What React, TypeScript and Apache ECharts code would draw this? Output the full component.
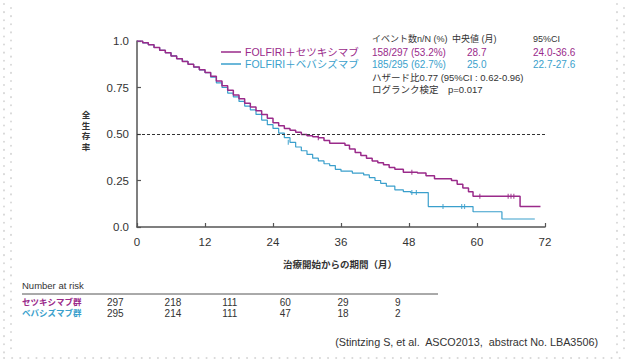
import React, { useEffect, useRef } from "react";
import * as echarts from "echarts";

const cetuxTimes = [0, 1, 2, 3, 4, 5, 6, 7, 8, 9, 10, 11, 12, 13, 14, 15, 16, 17, 18, 19, 20, 21, 22, 23, 24, 25, 26, 27, 28, 29, 30, 31, 32, 33, 34, 36.7, 37.5, 38.5, 39.5, 40.5, 41.5, 42.5, 43.5, 44.5, 45.5, 47, 49.5, 51, 52.5, 55.5, 56.5, 57.5, 58.5, 59.3, 67.6, 71.2];
const cetuxSurv = [1.0, 0.99, 0.98, 0.965, 0.95, 0.937, 0.92, 0.905, 0.89, 0.875, 0.86, 0.845, 0.83, 0.81, 0.785, 0.76, 0.735, 0.71, 0.69, 0.665, 0.645, 0.625, 0.605, 0.585, 0.56, 0.545, 0.53, 0.52, 0.51, 0.497, 0.49, 0.485, 0.48, 0.465, 0.45, 0.44, 0.42, 0.4, 0.385, 0.37, 0.355, 0.345, 0.335, 0.32, 0.31, 0.295, 0.29, 0.275, 0.26, 0.25, 0.23, 0.21, 0.19, 0.165, 0.11, 0.11];

const bevTimes = [0, 1, 2, 3, 4, 5, 6, 7, 8, 9, 10, 11, 12, 13, 14, 15, 16, 17, 18, 19, 20, 21, 22, 23, 24, 25, 26, 27, 28, 29, 30, 31, 32, 33, 34, 35, 36, 38, 40, 41, 42, 43, 44, 45.5, 47, 48.3, 51.4, 59.3, 64.4, 70.2];
const bevSurv = [1.0, 0.99, 0.98, 0.965, 0.95, 0.937, 0.92, 0.905, 0.89, 0.875, 0.86, 0.845, 0.83, 0.805, 0.775, 0.75, 0.72, 0.7, 0.675, 0.65, 0.63, 0.605, 0.575, 0.55, 0.53, 0.505, 0.48, 0.455, 0.43, 0.41, 0.39, 0.37, 0.355, 0.34, 0.33, 0.31, 0.3, 0.29, 0.28, 0.265, 0.25, 0.235, 0.22, 0.2, 0.19, 0.185, 0.11, 0.082, 0.043, 0.043];

const cetuxCensorT = [32, 48.5, 60.5, 65.5, 66, 66.5];
const cetuxCensorS = [0.48, 0.295, 0.165, 0.165, 0.165, 0.165];
const bevCensorT = [26.7, 48.5, 49.3, 54, 57.3, 57.8];
const bevCensorS = [0.455, 0.185, 0.185, 0.11, 0.11, 0.11];

const xTicks = [0, 12, 24, 36, 48, 60, 72];
const yTickLabels: Record<string, string> = { "0": "0.0", "0.25": "0.25", "0.5": "0.50", "0.75": "0.75", "1": "1.0" };

const seriesNames = ["FOLFIRI＋セツキシマブ", "FOLFIRI＋ベバシズマブ"];
const tableHeader = ["イベント数n/N (%)", "中央値 (月)", "95%CI"];
const tableRows = [
  ["158/297 (53.2%)", "28.7", "24.0-36.6"],
  ["185/295 (62.7%)", "25.0", "22.7-27.6"],
];
const hazardText = "ハザード比0.77 (95%CI : 0.62-0.96)";
const logrankText = "ログランク検定　p=0.017";

const riskGroups = ["セツキシマブ群", "ベバシズマブ群"];
const riskCetux = [297, 218, 111, 60, 29, 9];
const riskBev = [295, 214, 111, 47, 18, 2];
const citation = "(Stintzing S, et al.  ASCO2013,  abstract No. LBA3506)";

const PURPLE = "#9a2a8a";
const BLUE = "#3a9fcc";
const FONT = "'Liberation Sans', 'Noto Sans CJK JP', sans-serif";

export default function App() {
  const ref = useRef<HTMLDivElement>(null);
  useEffect(() => {
    if (!ref.current) return;
    const chart = echarts.init(ref.current, null, { renderer: "svg" });
    const pair = (ts: number[], ss: number[]) => ts.map((t, i) => [t, ss[i]]);
    const txt = (x: number, y: number, text: string, fill: string, size = 9.5, align = "left", weight = "normal") => ({
      type: "text",
      x,
      y,
      style: { text, fill, fontSize: size, fontFamily: FONT, align, verticalAlign: "middle", fontWeight: weight },
    });
    const dotsColor = "#d8d8d8";
    const dotLine = (x1: number, y1: number, x2: number, y2: number) => ({
      type: "line",
      shape: { x1, y1, x2, y2 },
      style: { stroke: dotsColor, lineWidth: 2, lineDash: [0.1, 8], lineCap: "round" },
    });
    const riskX0 = 107;
    const riskStep = 57.6;
    const graphics: any[] = [
      dotLine(4, 4, 4, 356),
      dotLine(11, 8, 11, 356),
      dotLine(617, 4, 617, 356),
      dotLine(624, 8, 624, 356),
      dotLine(4, 358, 624, 358),
      // legend
      { type: "line", shape: { x1: 221, y1: 52, x2: 241, y2: 52 }, style: { stroke: PURPLE, lineWidth: 1.5 } },
      { type: "line", shape: { x1: 221, y1: 64, x2: 241, y2: 64 }, style: { stroke: BLUE, lineWidth: 1.5 } },
      txt(245, 52, seriesNames[0], PURPLE, 10.5),
      txt(245, 64, seriesNames[1], BLUE, 10.5),
      txt(372, 39, tableHeader[0], "#333", 9),
      txt(452, 39, tableHeader[1], "#333", 9),
      txt(533, 39, tableHeader[2], "#333", 9),
      txt(372, 52, tableRows[0][0], PURPLE, 10),
      txt(467, 52, tableRows[0][1], PURPLE, 10),
      txt(533, 52, tableRows[0][2], PURPLE, 10),
      txt(372, 64, tableRows[1][0], BLUE, 10),
      txt(467, 64, tableRows[1][1], BLUE, 10),
      txt(533, 64, tableRows[1][2], BLUE, 10),
      txt(372, 77, hazardText, "#333", 9.5),
      txt(372, 89, logrankText, "#333", 9.5),
      // y axis name
      {
        type: "text",
        x: 86,
        y: 131,
        style: { text: "全\n生\n存\n率", fill: "#333", fontSize: 8.5, lineHeight: 10.5, fontFamily: FONT, align: "center", verticalAlign: "middle", fontWeight: "bold" },
      },
      txt(340, 264, "治療開始からの期間（月）", "#333", 9.5, "center", "bold"),
      // number at risk
      txt(22, 285, "Number at risk", "#333", 9.5),
      { type: "line", shape: { x1: 22, y1: 294, x2: 438, y2: 294 }, style: { stroke: "#555", lineWidth: 1 } },
      txt(22, 302, riskGroups[0], PURPLE, 8.5, "left", "bold"),
      txt(22, 313, riskGroups[1], BLUE, 8.5, "left", "bold"),
      ...riskCetux.map((v, i) => txt(riskX0 + i * riskStep, 302, String(v), "#333", 10)),
      ...riskBev.map((v, i) => txt(riskX0 + i * riskStep, 313, String(v), "#333", 10)),
      txt(598, 342, citation, "#333", 10.8, "right"),
    ];
    chart.setOption({
      animation: false,
      backgroundColor: "#ffffff",
      textStyle: { fontFamily: FONT },
      grid: { left: 137, top: 41, width: 408, height: 186, outerBoundsMode: "none" },
      xAxis: {
        type: "value",
        min: 0,
        max: 72,
        interval: 12,
        axisLine: { lineStyle: { color: "#555", width: 1.5 } },
        axisTick: { inside: true, length: 4, lineStyle: { color: "#555", width: 1.2 } },
        axisLabel: { color: "#333", fontSize: 11.5, margin: 9, customValues: xTicks },
        splitLine: { show: false },
      },
      yAxis: {
        type: "value",
        min: 0,
        max: 1,
        interval: 0.25,
        axisLine: { show: true, lineStyle: { color: "#555", width: 1.5 } },
        axisTick: { show: true, inside: true, length: 4, lineStyle: { color: "#555", width: 1.2 } },
        axisLabel: { color: "#333", fontSize: 11.5, margin: 8, formatter: (v: number) => yTickLabels[String(v)] ?? "" },
        splitLine: { show: false },
      },
      series: [
        {
          type: "line",
          name: seriesNames[1],
          step: "end",
          data: pair(bevTimes, bevSurv),
          showSymbol: false,
          lineStyle: { color: BLUE, width: 1.2 },
          z: 2,
        },
        {
          type: "line",
          name: seriesNames[0],
          step: "end",
          data: pair(cetuxTimes, cetuxSurv),
          showSymbol: false,
          lineStyle: { color: PURPLE, width: 1.5 },
          z: 3,
          markLine: {
            silent: true,
            symbol: "none",
            label: { show: false },
            lineStyle: { color: "#333", type: [3, 2], width: 1 },
            data: [{ yAxis: 0.5 }],
          },
        },
        {
          type: "scatter",
          data: pair(cetuxCensorT, cetuxCensorS),
          symbol: "rect",
          symbolSize: [1.2, 5],
          itemStyle: { color: PURPLE },
          z: 4,
        },
        {
          type: "scatter",
          data: pair(bevCensorT, bevCensorS),
          symbol: "rect",
          symbolSize: [1.2, 5],
          itemStyle: { color: BLUE },
          z: 4,
        },
      ],
      graphic: graphics,
    });
    return () => chart.dispose();
  }, []);
  return <div ref={ref} style={{ width: 630, height: 364, position: "absolute", left: 0, top: 0 }} />;
}
